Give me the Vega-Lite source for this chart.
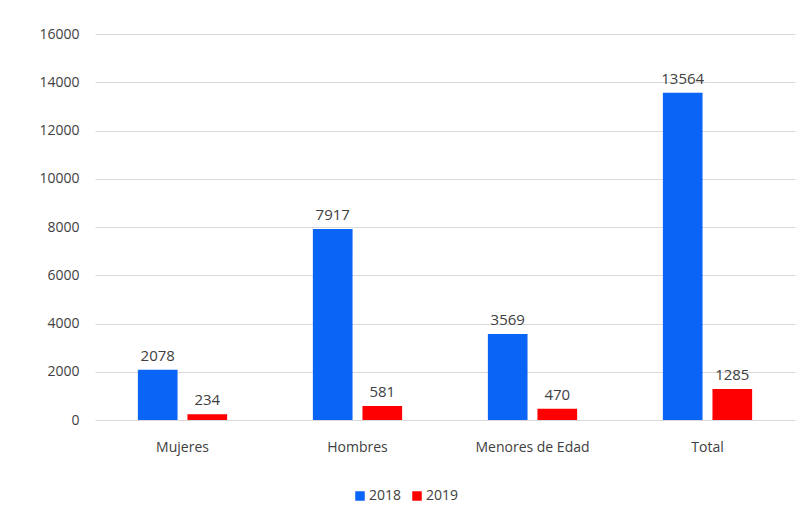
{
  "$schema": "https://vega.github.io/schema/vega-lite/v6.json",
  "autosize": {"type": "none"},
  "width": 700,
  "height": 386,
  "padding": {"left": 95, "top": 34, "right": 11, "bottom": 107},
  "background": "white",
  "config": {
    "view": {"stroke": null},
    "font": "Open Sans"
  },
  "data": {
    "values": [
      {"categoria": "Mujeres", "anio": "2018", "valor": 2078},
      {"categoria": "Mujeres", "anio": "2019", "valor": 234},
      {"categoria": "Hombres", "anio": "2018", "valor": 7917},
      {"categoria": "Hombres", "anio": "2019", "valor": 581},
      {"categoria": "Menores de Edad", "anio": "2018", "valor": 3569},
      {"categoria": "Menores de Edad", "anio": "2019", "valor": 470},
      {"categoria": "Total", "anio": "2018", "valor": 13564},
      {"categoria": "Total", "anio": "2019", "valor": 1285}
    ]
  },
  "encoding": {
    "x": {
      "field": "categoria",
      "type": "nominal",
      "sort": ["Mujeres", "Hombres", "Menores de Edad", "Total"],
      "scale": {"paddingInner": 0.49, "paddingOuter": 0.245},
      "axis": {
        "title": null,
        "labelAngle": 0,
        "ticks": false,
        "domain": false,
        "labelFontSize": 14,
        "labelColor": "#404040",
        "labelPadding": 20
      }
    },
    "xOffset": {
      "field": "anio",
      "type": "nominal",
      "scale": {"paddingInner": 0.2, "paddingOuter": 0}
    },
    "y": {
      "field": "valor",
      "type": "quantitative",
      "scale": {"domain": [0, 16000], "nice": false},
      "axis": {
        "title": null,
        "format": "d",
        "values": [0, 2000, 4000, 6000, 8000, 10000, 12000, 14000, 16000],
        "ticks": false,
        "domain": false,
        "gridColor": "#d9d9d9",
        "labelFontSize": 14,
        "labelColor": "#404040",
        "labelPadding": 16
      }
    }
  },
  "layer": [
    {
      "mark": {"type": "bar"},
      "encoding": {
        "color": {
          "field": "anio",
          "type": "nominal",
          "scale": {"domain": ["2018", "2019"], "range": ["#0a64f5", "#ff0000"]},
          "legend": {
            "title": null,
            "orient": "none",
            "legendX": 258,
            "legendY": 455,
            "direction": "horizontal",
            "symbolType": "square",
            "symbolSize": 90,
            "symbolStrokeWidth": 0,
            "labelFontSize": 14,
            "labelColor": "#404040",
            "columnPadding": 8,
            "labelOffset": 2
          }
        }
      }
    },
    {
      "mark": {"type": "text", "baseline": "bottom", "dy": -6, "fontSize": 15, "color": "#404040"},
      "encoding": {
        "text": {"field": "valor", "type": "quantitative", "format": "d"}
      }
    }
  ]
}
